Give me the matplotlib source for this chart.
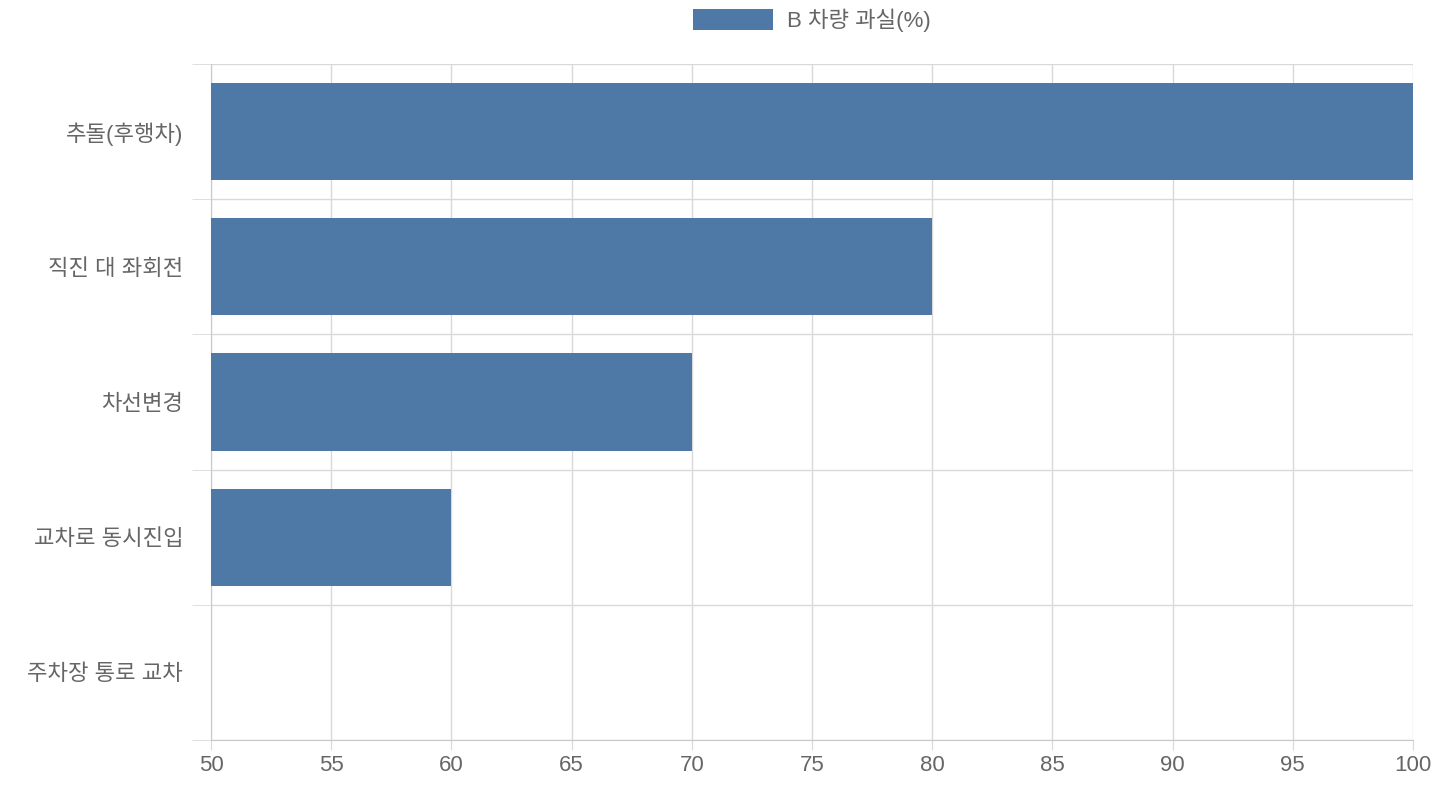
import matplotlib
matplotlib.use("Agg")
import matplotlib.pyplot as plt
import numpy as np

plt.rcParams["font.family"] = ["Liberation Sans", "Noto Sans CJK KR", "DejaVu Sans"]

categories = ["추돌(후행차)", "직진 대 좌회전", "차선변경", "교차로 동시진입", "주차장 통로 교차"]
fault_b = [100, 80, 70, 60, 50]
series_label = "B 차량 과실(%)"
bar_color = "#4E79A7"
text_color = "#666666"
grid_color = "#D9D9D9"

fig = plt.figure(figsize=(14.4, 8), dpi=100)
ax = fig.add_axes([211 / 1440, 1 - 740 / 800, 1202 / 1440, 676 / 800])

y = np.arange(len(categories))
base = 50
ax.barh(y, np.array(fault_b) - base, left=base, height=0.72, color=bar_color,
        label=series_label, zorder=3)

ax.set_xlim(50, 100)
ax.set_xticks(np.arange(50, 101, 5))
ax.set_ylim(len(categories) - 0.5, -0.5)
ax.set_yticks(y)
ax.set_yticklabels(categories)
ax.set_yticks(np.arange(-0.5, len(categories), 1), minor=True)

ax.grid(axis="x", which="major", color=grid_color, linewidth=1, zorder=0)
ax.grid(axis="y", which="minor", color=grid_color, linewidth=1, zorder=0)
ax.tick_params(axis="y", which="major", length=0, pad=20, labelsize=16, labelcolor=text_color)
ax.tick_params(axis="y", which="minor", length=14, color=grid_color)
ax.tick_params(axis="x", which="major", length=7, color=grid_color, labelsize=16,
               labelcolor=text_color, pad=4)

for side in ["top", "right"]:
    ax.spines[side].set_visible(False)
for side in ["left", "bottom"]:
    ax.spines[side].set_color("#C8C8C8")

ax.legend(loc="lower center", bbox_to_anchor=(0.5, 1.0 + 12 / 676), frameon=False,
          fontsize=16, labelcolor=text_color, handlelength=3.6, handleheight=1.1,
          handletextpad=0.6)

fig.savefig("out.png", dpi=100)
